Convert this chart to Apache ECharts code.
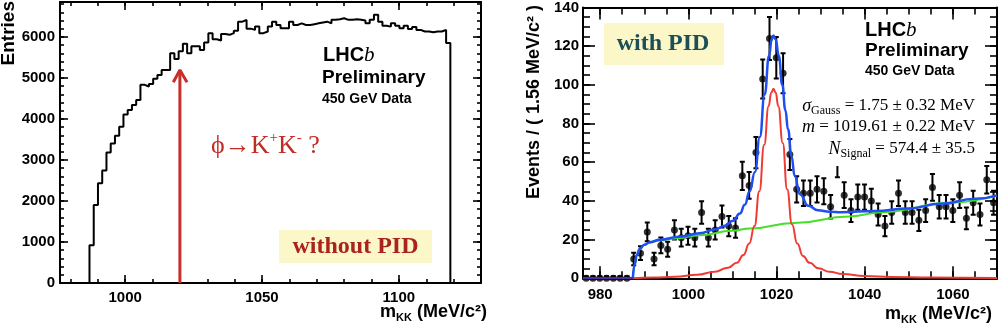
<!DOCTYPE html>
<html>
<head>
<meta charset="utf-8">
<script src="https://cdn.jsdelivr.net/npm/echarts@6/dist/echarts.min.js"></script>
<style>
  html, body { margin: 0; background: #fff; }
  #chart { width: 1000px; height: 327px; }
</style>
</head>
<body>
<div id="chart"></div>
<script>
// left panel: m_KK histogram without PID (85 bins)
const leftBinStart = 986.97
const leftBinWidth = 1.551
const leftEntries = [
  920, 1900, 2430, 2740, 3180, 3400, 3590, 3810, 4110, 4220, 4340, 4460, 4830, 4790, 4850, 4980, 5070, 5190, 5190,
  5600, 5460, 5650, 5830, 5600, 5770, 5770, 5680, 5860, 6090, 5940, 5910, 6070, 6050, 6090, 6150, 6370, 6410,
  6200, 6170, 6250, 6090, 6130, 6250, 6370, 6290, 6210, 6210, 6370, 6290, 6330, 6290, 6290, 6310, 6330, 6350,
  6370, 6330, 6415, 6430, 6455, 6415, 6415, 6430, 6415, 6400, 6330, 6415, 6537, 6370, 6270, 6250, 6330, 6270,
  6210, 6270, 6190, 6240, 6170, 6130, 6130, 6110, 6130, 6130, 6170, 5850
]
const arrowMass = 1020
const arrowTop = 5195

// right panel: with PID, events per bin and errors
const rightBinStart = 976.82
const rightBinWidth = 1.54
const rightEvents = [
  0, 0, 0, 0, 0, 0, 0,
  10, 13, 24, 10, 17, 15, 25, 21, 22, 21, 34, 21, 25, 32, 27, 26, 53, 48, 65, 103, 124, 114, 106, 64,
  46, 44, 44, 46, 45, 37, 60, 43, 35, 42, 42, 40, 33, 27, 34, 44, 34, 34, 30, 35, 47, 37, 37, 35, 43, 31,
  39, 33, 51, 39
]
const rightErrors = [
  1.1, 1.1, 1.1, 1.1, 1.1, 1.1, 1.1,
  3.2, 3.6, 4.9, 3.2, 4.1, 3.9, 5.0, 4.6, 4.7, 4.6, 5.8, 4.6, 5.0, 5.7, 5.2, 5.1, 7.3, 6.9, 8.1, 10.1, 11.1, 10.7, 10.3, 8.0,
  6.8, 6.6, 6.6, 6.8, 6.7, 6.1, 7.7, 6.6, 5.9, 6.5, 6.5, 6.3, 5.7, 5.2, 5.8, 6.6, 5.8, 5.8, 5.5, 5.9, 6.9, 6.1, 6.1, 5.9, 6.6, 5.6,
  6.2, 5.7, 7.1, 6.2
]

// fit curves: [mass, events]
const fitTotal = [
  [987.4, 0], [987.8, 7], [988.3, 12], [989, 15.3], [990, 17.4], [991.3, 18.7], [993.5, 19.9], [998, 21.5],
  [1002.6, 23.3], [1006, 25.2], [1008.3, 27.2], [1010.1, 29.8], [1011.7, 33.5], [1012.8, 38], [1013.9, 45],
  [1015.1, 55], [1016.2, 73], [1017.3, 95], [1018.3, 115], [1018.9, 123.5], [1019.3, 125.5], [1019.8, 123.5],
  [1020.5, 115], [1021.3, 100], [1022, 87], [1022.6, 77], [1023.4, 63], [1024.1, 53], [1025.3, 43.5],
  [1027.2, 37.5], [1029.4, 35.2], [1032, 34.4], [1034.7, 34.2], [1042.3, 34.8], [1049.8, 36.1],
  [1057.4, 38.5], [1065, 41.1], [1070, 42.9]
]
const fitSignal = [
  [987.4, 0], [992, 0.4], [997, 0.8], [1002, 1.8], [1006, 3.4], [1009, 5.5], [1011, 8], [1012.5, 12],
  [1013.8, 18], [1015, 27], [1016.1, 45], [1017.2, 69], [1018.2, 89], [1018.8, 96], [1019.3, 98],
  [1019.8, 96], [1020.4, 89], [1021.4, 70], [1022.4, 46], [1023.5, 28], [1024.7, 18], [1026, 11.5],
  [1027.5, 8], [1029.5, 5.2], [1032, 3.4], [1035, 2.2], [1040, 1.2], [1046, 0.7], [1055, 0.4], [1070, 0.2]
]
const fitBackground = [
  [987.4, 0], [987.8, 7], [988.3, 12], [989, 15], [990, 17.2], [991.3, 18.5], [993.5, 19.5], [997, 20.6],
  [1002.6, 22.3], [1010, 24.6], [1014, 25.8], [1024, 28.6], [1036.6, 32], [1044, 34.2], [1059.3, 39.1], [1070, 42.8]
]
const belowThreshold = [[976.1, 0], [987.4, 0]]

// ticks
const leftXMajor = [1000, 1050, 1100]
const leftYMajor = [0, 1000, 2000, 3000, 4000, 5000, 6000]
const rightXMajor = [980, 1000, 1020, 1040, 1060]
const rightYMajor = [0, 20, 40, 60, 80, 100, 120, 140]

function range(a, b, step) {
  const out = []
  for (let v = a; v <= b + 1e-9; v += step) out.push(v)
  return out
}

const SANS = '"Liberation Sans", Arial, sans-serif'
const SERIF = '"Liberation Serif", "Times New Roman", serif'

// one axis of the ROOT style frame
function frameAxis(grid, pos, min, max, ticks, len, withLine, labels, margin) {
  return {
    type: 'value',
    gridIndex: grid,
    position: pos,
    min: min,
    max: max,
    axisLine: { show: withLine, onZero: false, lineStyle: { color: '#000', width: 2 } },
    axisTick: { show: true, inside: true, length: len, customValues: ticks, lineStyle: { color: '#000', width: 1.6 } },
    axisLabel: labels
      ? {
          show: true, customValues: labels, margin: margin, formatter: (v) => String(v),
          color: '#000', fontFamily: SANS, fontWeight: 'bold', fontSize: 15
        }
      : { show: false },
    splitLine: { show: false }
  }
}

const L = { xmin: 976.2, xmax: 1130, ymin: 0, ymax: 6850 }
const R = { xmin: 976.1, xmax: 1070, ymin: 0, ymax: 140 }

const xAxes = [
  frameAxis(0, 'bottom', L.xmin, L.xmax, leftXMajor, 8, true, leftXMajor, 7),
  frameAxis(0, 'bottom', L.xmin, L.xmax, range(980, 1130, 10), 4, false),
  frameAxis(0, 'top', L.xmin, L.xmax, leftXMajor, 8, true),
  frameAxis(0, 'top', L.xmin, L.xmax, range(980, 1130, 10), 4, false),
  frameAxis(1, 'bottom', R.xmin, R.xmax, rightXMajor, 12, true, rightXMajor, 9),
  frameAxis(1, 'bottom', R.xmin, R.xmax, range(980, 1070, 5), 7, false),
  frameAxis(1, 'top', R.xmin, R.xmax, rightXMajor, 12, true),
  frameAxis(1, 'top', R.xmin, R.xmax, range(980, 1070, 5), 7, false)
]
const yAxes = [
  frameAxis(0, 'left', L.ymin, L.ymax, leftYMajor, 8, true, leftYMajor, 5),
  frameAxis(0, 'left', L.ymin, L.ymax, range(0, 6800, 200), 4, false),
  frameAxis(0, 'right', L.ymin, L.ymax, leftYMajor, 8, true),
  frameAxis(0, 'right', L.ymin, L.ymax, range(0, 6800, 200), 4, false),
  frameAxis(1, 'left', R.ymin, R.ymax, rightYMajor, 12, true, rightYMajor, 4),
  frameAxis(1, 'left', R.ymin, R.ymax, range(0, 140, 5), 7, false),
  frameAxis(1, 'right', R.ymin, R.ymax, rightYMajor, 12, true),
  frameAxis(1, 'right', R.ymin, R.ymax, range(0, 140, 5), 7, false)
]

// histogram outline, points at bin edges
const histPts = [[leftBinStart, 0]]
leftEntries.forEach((v, k) => histPts.push([leftBinStart + k * leftBinWidth, v]))
const histEnd = leftBinStart + leftEntries.length * leftBinWidth
histPts.push([histEnd, leftEntries[leftEntries.length - 1]])
histPts.push([histEnd, 0])

const points = rightEvents.map((v, i) => [rightBinStart + i * rightBinWidth, v, rightErrors[i]])

function errorBar(params, api) {
  const x = api.value(0), y = api.value(1), e = api.value(2)
  const top = api.coord([x, y + e])
  const bot = api.coord([x, Math.max(0, y - e)])
  const cap = 2.5
  const st = { stroke: '#000', lineWidth: 2 }
  return {
    type: 'group',
    children: [
      { type: 'line', shape: { x1: top[0], y1: top[1], x2: bot[0], y2: bot[1] }, style: st },
      { type: 'line', shape: { x1: top[0] - cap, y1: top[1], x2: top[0] + cap, y2: top[1] }, style: st },
      { type: 'line', shape: { x1: bot[0] - cap, y1: bot[1], x2: bot[0] + cap, y2: bot[1] }, style: st }
    ]
  }
}

function curve(data, color, width) {
  return {
    type: 'line', xAxisIndex: 4, yAxisIndex: 4, data: data,
    smooth: true, smoothMonotone: 'x', showSymbol: false, z: 5,
    lineStyle: { color: color, width: width }
  }
}

const richMass = {
  m: { fontFamily: SANS, fontWeight: 'bold', fontSize: 18, lineHeight: 22 },
  s: { fontFamily: SANS, fontWeight: 'bold', fontSize: 11, lineHeight: 12, verticalAlign: 'bottom' }
}
const richFit = {
  i: { fontFamily: SERIF, fontStyle: 'italic', fontSize: 18, lineHeight: 22 },
  s: { fontFamily: SERIF, fontSize: 12, lineHeight: 13, verticalAlign: 'bottom' },
  n: { fontFamily: SERIF, fontSize: 17, lineHeight: 22 }
}
const richLHCb = {
  a: { fontFamily: SANS, fontWeight: 'bold', fontSize: 20 },
  b: { fontFamily: SERIF, fontStyle: 'italic', fontSize: 21 }
}
const red = '#c02c26'

function txt(x, y, text, font, extra, rotation) {
  return {
    type: 'text', x: x, y: y, z: 20, rotation: rotation || 0,
    style: Object.assign({ text: text, font: font, fill: '#000', align: 'left', verticalAlign: 'middle' }, extra || {})
  }
}

const option = {
  animation: false,
  grid: [
    { left: 60, right: 519, top: 2, bottom: 44 },
    { left: 583, right: 3, top: 6, bottom: 48.7 }
  ],
  xAxis: xAxes,
  yAxis: yAxes,
  series: [
    {
      type: 'line', xAxisIndex: 0, yAxisIndex: 0, data: histPts, step: 'end',
      showSymbol: false, lineStyle: { color: '#000', width: 2 }
    },
    {
      type: 'line', xAxisIndex: 0, yAxisIndex: 0, data: [[arrowMass, 0], [arrowMass, arrowTop]],
      showSymbol: false, lineStyle: { color: '#c7302a', width: 3 }, z: 4
    },
    {
      type: 'line', xAxisIndex: 0, yAxisIndex: 0,
      data: [[arrowMass - 2.4, arrowTop - 300], [arrowMass, arrowTop], [arrowMass + 2.6, arrowTop - 300]],
      showSymbol: false, lineStyle: { color: '#c7302a', width: 3 }, z: 4
    },
    {
      type: 'custom', xAxisIndex: 4, yAxisIndex: 4, data: points, renderItem: errorBar,
      encode: { x: 0, y: 1 }, clip: true, z: 3
    },
    {
      type: 'scatter', xAxisIndex: 4, yAxisIndex: 4, data: points, symbolSize: 7,
      itemStyle: { color: '#000' }, z: 3
    },
    curve(fitBackground, '#45e02a', 2),
    curve(fitSignal, '#f03a34', 2),
    curve(fitTotal, '#1f4ef2', 2.5),
    {
      type: 'line', xAxisIndex: 4, yAxisIndex: 4, data: belowThreshold,
      showSymbol: false, lineStyle: { color: '#4a2f9c', width: 2.5 }, z: 5
    }
  ],
  graphic: [
    // left panel texts
    txt(9, 1, 'Entries', 'bold 19px ' + SANS, { align: 'right' }, Math.PI / 2),
    txt(323, 55, '{a|LHC}{b|b}', '', { rich: richLHCb }),
    txt(322, 78, 'Preliminary', 'bold 19px ' + SANS),
    txt(322, 99, '450 GeV Data', 'bold 14px ' + SANS),
    txt(211, 146, '{a|\u03d5\u2192K}{p|+}{a|K}{p|-}{a| ?}', '', {
      rich: {
        a: { fontFamily: SERIF, fontSize: 26, lineHeight: 30, fill: red },
        p: { fontFamily: SERIF, fontSize: 15, lineHeight: 16, verticalAlign: 'top', fill: red }
      }
    }),
    { type: 'rect', shape: { x: 279, y: 230, width: 153, height: 33 }, style: { fill: '#fcf7c9' }, z: 19 },
    txt(355.5, 247, 'without PID', 'bold 24px ' + SERIF, { align: 'center', fill: '#aa231d' }),
    txt(487, 312, '{m|m}{s|KK}{m| (MeV/c\u00b2)}', '', { align: 'right', rich: richMass }),
    // right panel texts
    txt(534, 5, 'Events / ( 1.56 MeV/c\u00b2 )', 'bold 18px ' + SANS, { align: 'right' }, Math.PI / 2),
    { type: 'rect', shape: { x: 604, y: 23, width: 120, height: 42 }, style: { fill: '#fcf7c9' }, z: 19 },
    txt(663, 44, 'with PID', 'bold 24px ' + SERIF, { align: 'center', fill: '#1d4f57' }),
    txt(865, 30, '{a|LHC}{b|b}', '', { rich: richLHCb }),
    txt(865, 51, 'Preliminary', 'bold 19px ' + SANS),
    txt(865, 71, '450 GeV Data', 'bold 14px ' + SANS),
    { type: 'rect', shape: { x: 800, y: 95, width: 180, height: 71 }, style: { fill: '#fff' }, z: 19 },
    txt(975, 106, '{i|\u03c3}{s|Gauss}{n| = 1.75 \u00b1 0.32 MeV}', '', { align: 'right', rich: richFit }),
    txt(975, 127, '{i|m}{n| = 1019.61 \u00b1 0.22 MeV}', '', { align: 'right', rich: richFit }),
    txt(975, 149, '{i|N}{s|Signal}{n| = 574.4 \u00b1 35.5}', '', { align: 'right', rich: richFit }),
    txt(992, 314, '{m|m}{s|KK}{m| (MeV/c\u00b2)}', '', { align: 'right', rich: richMass })
  ]
}

const chart = echarts.init(document.getElementById('chart'))
chart.setOption(option)
</script>
</body>
</html>
